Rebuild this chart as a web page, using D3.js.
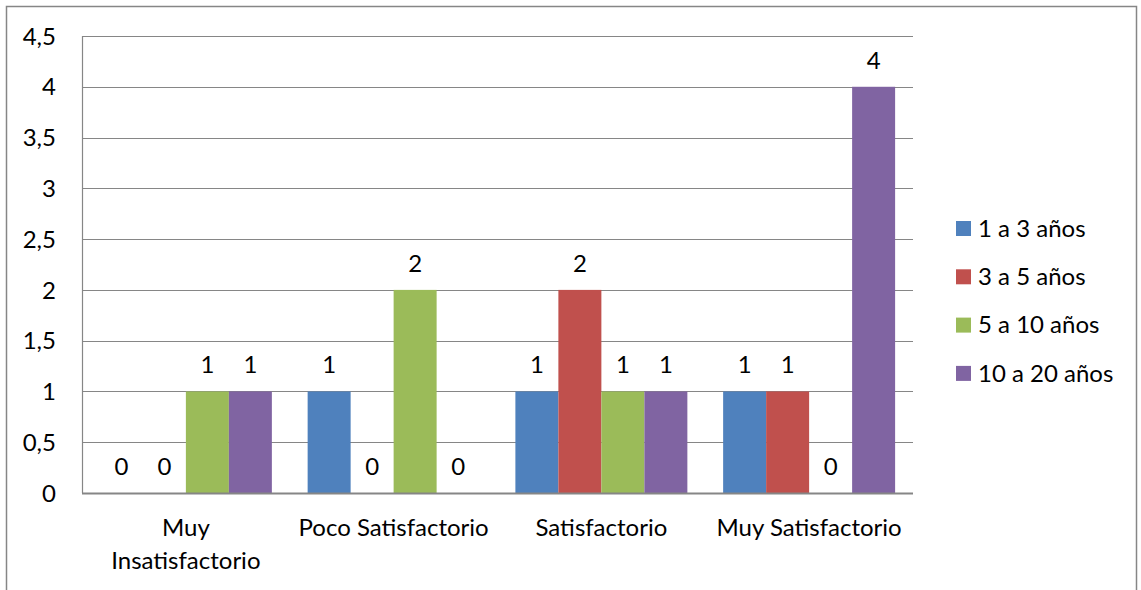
<!DOCTYPE html>
<html>
<head>
<meta charset="utf-8">
<script src="https://cdn.jsdelivr.net/npm/d3@7"></script>
<style>
  html, body { margin: 0; padding: 0; background: #fff; }
  text { font-family: Lato, "Liberation Sans", sans-serif; fill: #000; }
</style>
</head>
<body>
<svg id="chart" width="1141" height="590"></svg>
<script>
// Satisfaction level by years of experience
const categories = [["Muy", "Insatisfactorio"], ["Poco Satisfactorio"], ["Satisfactorio"], ["Muy Satisfactorio"]];
const seriesNames = ["1 a 3 años", "3 a 5 años", "5 a 10 años", "10 a 20 años"];
const seriesColors = ["#4F81BD", "#C0504D", "#9BBB59", "#8064A2"];
const values1a3 = [0, 1, 1, 1];
const values3a5 = [0, 0, 2, 1];
const values5a10 = [1, 2, 1, 0];
const values10a20 = [1, 0, 1, 4];
const yTicks = [0, 0.5, 1, 1.5, 2, 2.5, 3, 3.5, 4, 4.5];

const seriesValues = [values1a3, values3a5, values5a10, values10a20];
const fmt = v => String(v).replace(".", ",");

const svg = d3.select("#chart");
const plot = { left: 82, right: 913, top: 36, bottom: 493 };
const fontSize = 24;

// outer chart frame
svg.append("rect")
  .attr("x", 6.5).attr("y", 6.5).attr("width", 1130).attr("height", 600)
  .attr("fill", "#fff").attr("stroke", "#868686").attr("stroke-width", 1.5);

const y = d3.scaleLinear().domain([0, 4.5]).range([plot.bottom, plot.top]);
const x0 = d3.scaleBand().domain(d3.range(categories.length)).range([plot.left, plot.right]).padding(0);
const x1 = d3.scaleBand().domain(d3.range(seriesNames.length)).range([0, x0.bandwidth()])
  .paddingInner(0).paddingOuter(0.416);

// horizontal gridlines
svg.append("g").selectAll("line").data(yTicks.filter(t => t > 0)).join("line")
  .attr("x1", plot.left).attr("x2", plot.right)
  .attr("y1", d => Math.round(y(d)) + 0.5).attr("y2", d => Math.round(y(d)) + 0.5)
  .attr("stroke", "#868686").attr("stroke-width", 1.2);

// y axis line
svg.append("line")
  .attr("x1", plot.left + 0.5).attr("x2", plot.left + 0.5)
  .attr("y1", plot.top).attr("y2", plot.bottom)
  .attr("stroke", "#868686").attr("stroke-width", 1.2);

// y tick labels
svg.append("g").selectAll("text").data(yTicks).join("text")
  .attr("x", 56).attr("y", d => y(d))
  .attr("dy", "0.36em")
  .attr("text-anchor", "end")
  .attr("font-size", fontSize)
  .text(fmt);

// bars
const groups = svg.append("g").selectAll("g").data(categories).join("g")
  .attr("transform", (d, i) => `translate(${x0(i)},0)`);

groups.each(function(_, ci) {
  const g = d3.select(this);
  const vals = seriesValues.map(s => s[ci]);
  g.selectAll("rect").data(vals).join("rect")
    .attr("x", (d, si) => x1(si))
    .attr("y", d => y(d))
    .attr("width", x1.bandwidth())
    .attr("height", d => plot.bottom - y(d))
    .attr("fill", (d, si) => seriesColors[si]);
  g.selectAll("text").data(vals).join("text")
    .attr("x", (d, si) => x1(si) + x1.bandwidth() / 2)
    .attr("y", d => y(d) - 18)
    .attr("text-anchor", "middle")
    .attr("font-size", fontSize)
    .text(d => d);
});

// x axis line
svg.append("line")
  .attr("x1", plot.left).attr("x2", plot.right)
  .attr("y1", plot.bottom + 0.5).attr("y2", plot.bottom + 0.5)
  .attr("stroke", "#868686").attr("stroke-width", 2);

// category labels
svg.append("g").selectAll("text").data(categories).join("text")
  .attr("x", (d, i) => x0(i) + x0.bandwidth() / 2)
  .attr("y", 536)
  .attr("text-anchor", "middle")
  .attr("font-size", fontSize)
  .each(function(lines) {
    d3.select(this).selectAll("tspan").data(lines).join("tspan")
      .attr("x", d3.select(this).attr("x"))
      .attr("dy", (d, i) => i === 0 ? 0 : 33)
      .text(d => d);
  });

// legend
const legend = svg.append("g").selectAll("g").data(seriesNames).join("g")
  .attr("transform", (d, i) => `translate(956,${228 + i * 48.3})`);
legend.append("rect")
  .attr("x", 0).attr("y", -7).attr("width", 15).attr("height", 15)
  .attr("fill", (d, i) => seriesColors[i]);
legend.append("text")
  .attr("x", 22).attr("y", 0).attr("dy", "0.36em")
  .attr("font-size", fontSize)
  .text(d => d);
</script>
</body>
</html>
